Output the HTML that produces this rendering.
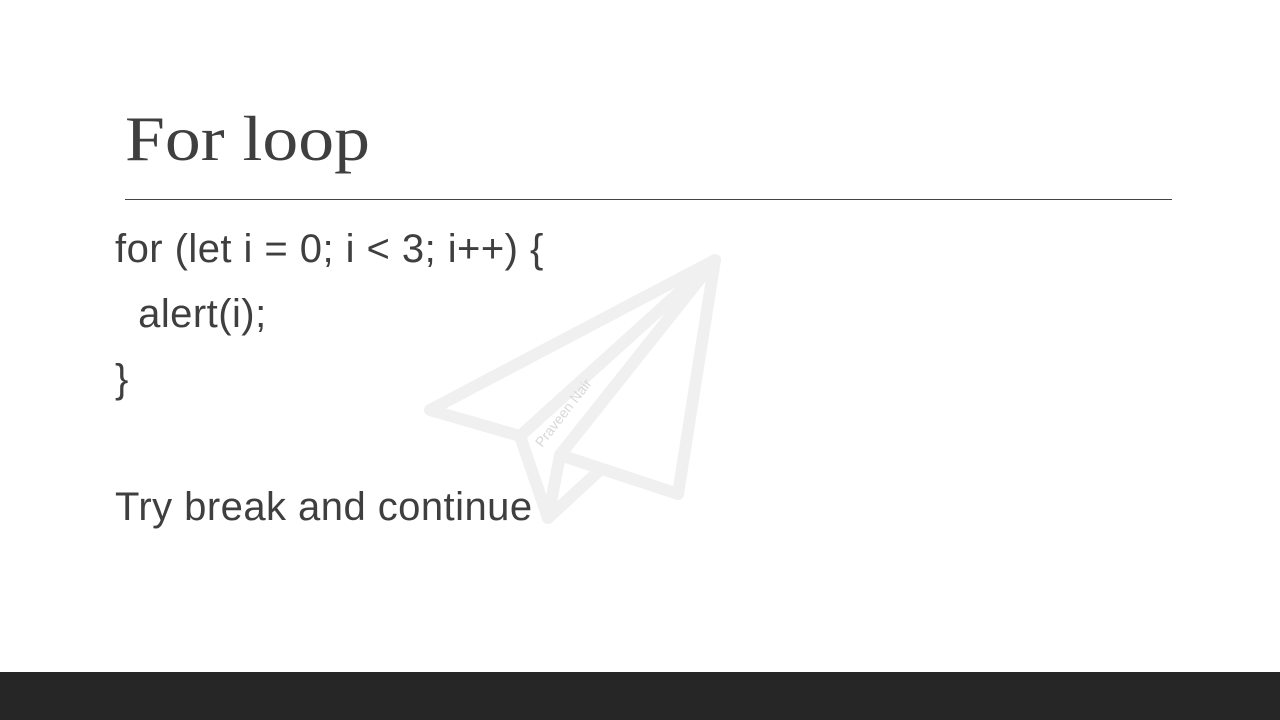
<!DOCTYPE html>
<html><head><style>
body{margin:0;width:1280px;height:720px;background:#fff;position:relative;overflow:hidden;font-family:"Liberation Sans",sans-serif;color:#3f3f3f}
.t{position:absolute;white-space:pre}
.b{font-size:40px;letter-spacing:0.45px}
</style></head><body>
<svg style="position:absolute;left:0;top:0" width="1280" height="720">
<g fill="none" stroke="#f0f0f0" stroke-width="12" stroke-linejoin="round" stroke-linecap="round">
<path d="M715 260 L430 410 L520 436 Z"/>
<path d="M520 436 L548 518 L600 470"/>
<path d="M715 260 L560 455 L548 518"/>
<path d="M560 455 L678 494 L715 260"/>
</g>
<text x="0" y="0" transform="translate(542,448) rotate(-52)" font-family="Liberation Sans" font-size="14" fill="#d8d8d8">Praveen Nair</text>
<line x1="125" y1="199.5" x2="1172" y2="199.5" stroke="#444" stroke-width="1"/>
<rect x="0" y="672" width="1280" height="48" fill="#262626"/>
</svg>
<div class="t" style="left:125px;top:102px;font-family:'Liberation Serif',serif;font-size:64px;transform:scaleX(1.12);transform-origin:0 0">For loop</div>
<div class="t b" style="left:115px;top:227px">for (let i = 0; i &lt; 3; i++) {</div>
<div class="t b" style="left:115px;top:292px">  alert(i);</div>
<div class="t b" style="left:115px;top:357px">}</div>
<div class="t b" style="left:115px;top:485px">Try break and continue</div>
</body></html>
